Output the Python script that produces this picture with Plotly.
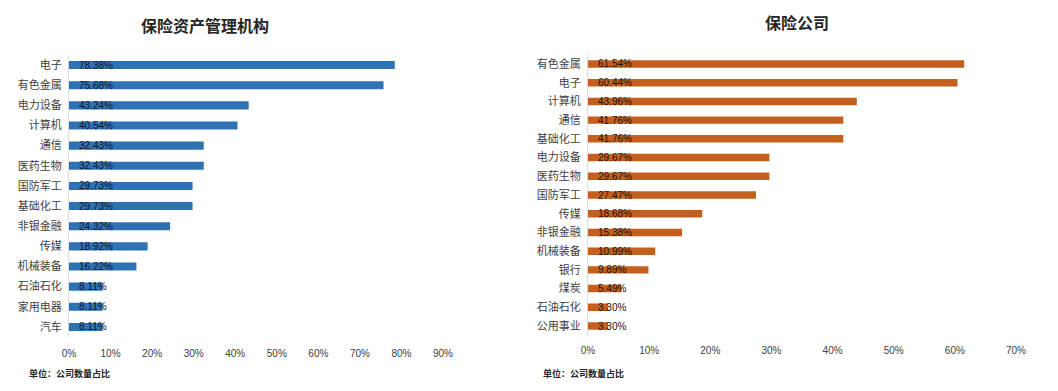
import plotly.graph_objects as go

# ---- data ----
left_title = "保险资产管理机构"
left_categories = ["电子", "有色金属", "电力设备", "计算机", "通信", "医药生物", "国防军工",
                   "基础化工", "非银金融", "传媒", "机械装备", "石油石化", "家用电器", "汽车"]
left_values = [78.38, 75.68, 43.24, 40.54, 32.43, 32.43, 29.73,
               29.73, 24.32, 18.92, 16.22, 8.11, 8.11, 8.11]

right_title = "保险公司"
right_categories = ["有色金属", "电子", "计算机", "通信", "基础化工", "电力设备", "医药生物",
                    "国防军工", "传媒", "非银金融", "机械装备", "银行", "煤炭", "石油石化", "公用事业"]
right_values = [61.54, 60.44, 43.96, 41.76, 41.76, 29.67, 29.67,
                27.47, 18.68, 15.38, 10.99, 9.89, 5.49, 3.30, 3.30]

left_ticks = [0, 10, 20, 30, 40, 50, 60, 70, 80, 90]
right_ticks = [0, 10, 20, 30, 40, 50, 60, 70]
footnote = "单位：公司数量占比"

BLUE = "#2E72B4"
ORANGE = "#C55F1D"
CJK = "Noto Sans CJK SC"
W, H = 1058, 391
OFF = 8  # page body margin


def px_x(p):
    return (p - OFF) / W


def px_y(p):
    return 1 - (p - OFF) / H


fig = go.Figure()

fig.add_trace(go.Bar(y=left_categories, x=left_values, orientation="h",
                     marker=dict(color=BLUE, line=dict(width=0)),
                     xaxis="x", yaxis="y", showlegend=False, hoverinfo="x+y"))
fig.add_trace(go.Bar(y=right_categories, x=right_values, orientation="h",
                     marker=dict(color=ORANGE, line=dict(width=0)),
                     xaxis="x2", yaxis="y2", showlegend=False, hoverinfo="x+y"))

annotations = []
for c, v in zip(left_categories, left_values):
    annotations.append(dict(x=0, y=c, xref="x", yref="y", text=f"{v:.2f}%",
                            showarrow=False, xanchor="left", xshift=8,
                            font=dict(family="Liberation Sans", size=10, color="#10162e")))
for c, v in zip(right_categories, right_values):
    annotations.append(dict(x=0, y=c, xref="x2", yref="y2", text=f"{v:.2f}%",
                            showarrow=False, xanchor="left", xshift=8,
                            font=dict(family="Liberation Sans", size=10, color="#1e1209")))

annotations += [
    dict(x=px_x(205), y=px_y(25), xref="paper", yref="paper", text=f"<b>{left_title}</b>",
         showarrow=False, xanchor="center", yanchor="middle",
         font=dict(family=CJK, size=16, color="#262626")),
    dict(x=px_x(797), y=px_y(22), xref="paper", yref="paper", text=f"<b>{right_title}</b>",
         showarrow=False, xanchor="center", yanchor="middle",
         font=dict(family=CJK, size=16, color="#262626")),
    dict(x=px_x(27), y=px_y(373), xref="paper", yref="paper", text=f"<b>{footnote}</b>",
         showarrow=False, xanchor="left", yanchor="middle",
         font=dict(family=CJK, size=9, color="#262626")),
    dict(x=px_x(541), y=px_y(373), xref="paper", yref="paper", text=f"<b>{footnote}</b>",
         showarrow=False, xanchor="left", yanchor="middle",
         font=dict(family=CJK, size=9, color="#262626")),
]

tickfont = dict(family="Liberation Sans", size=10, color="#404040")
catfont = dict(family=CJK, size=11, color="#404040")

fig.update_layout(
    width=W, height=H,
    margin=dict(l=0, r=0, t=0, b=0, autoexpand=False),
    paper_bgcolor="white", plot_bgcolor="white",
    bargap=0.6,
    annotations=annotations,
    xaxis=dict(domain=[px_x(69), px_x(443)], range=[0, 90], tickvals=left_ticks,
               ticktext=[f"{t}%" for t in left_ticks], showgrid=False, zeroline=False,
               showline=False, ticks="outside", ticklen=7, tickcolor="rgba(0,0,0,0)",
               tickfont=tickfont, anchor="y", fixedrange=True, automargin=False),
    yaxis=dict(domain=[px_y(337), px_y(55)], type="category",
               categoryorder="array", categoryarray=left_categories,
               range=[len(left_categories) - 0.5, -0.5],
               showgrid=False, zeroline=False, showline=True, linecolor="#dcdcdc", linewidth=1,
               ticks="outside", ticklen=4, tickcolor="rgba(0,0,0,0)",
               tickfont=catfont, anchor="x", fixedrange=True, automargin=False),
    xaxis2=dict(domain=[px_x(588), px_x(1016)], range=[0, 70], tickvals=right_ticks,
                ticktext=[f"{t}%" for t in right_ticks], showgrid=False, zeroline=False,
                showline=False, ticks="outside", ticklen=6, tickcolor="rgba(0,0,0,0)",
                tickfont=tickfont, anchor="y2", fixedrange=True, automargin=False),
    yaxis2=dict(domain=[px_y(335.4), px_y(54.6)], type="category",
                categoryorder="array", categoryarray=right_categories,
                range=[len(right_categories) - 0.5, -0.5],
                showgrid=False, zeroline=False, showline=True, linecolor="#dcdcdc", linewidth=1,
                ticks="outside", ticklen=4, tickcolor="rgba(0,0,0,0)",
                tickfont=catfont, anchor="x2", fixedrange=True, automargin=False),
)

fig.write_html("out.html")
